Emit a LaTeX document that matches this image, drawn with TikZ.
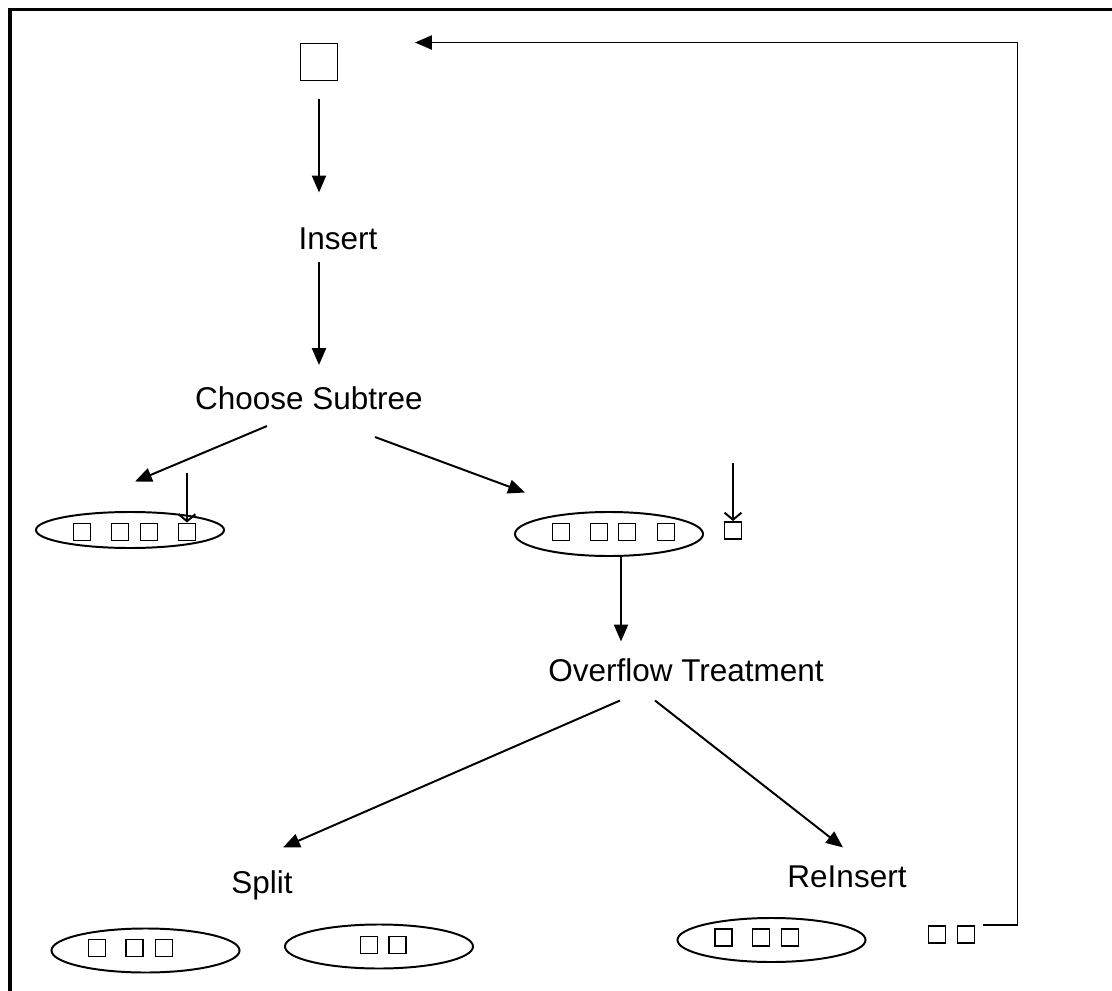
\documentclass[tikz,border=0pt]{standalone}
\usepackage{fontspec}
\setmainfont{Liberation Sans}
\usetikzlibrary{shapes.geometric, arrows.meta, calc}

\begin{document}
\begin{tikzpicture}[
  x=0.025cm, y=-0.025cm,
  lbl/.style={inner sep=0pt, text height=16pt, text depth=0pt, font=\fontsize{22.4}{27}\selectfont},
  leaf/.style={ellipse, draw, line width=1.4pt, minimum width=4.7cm, minimum height=1.1cm, inner sep=0pt},
  slot/.style={rectangle, draw, line width=1.4pt, minimum size=0.425cm, inner sep=0pt},
  arrow/.style={-{Triangle[length=12pt, width=10pt]}, line width=1.4pt},
  barb/.style={-{Straight Barb[length=5pt, width=12pt]}, line width=1.4pt},
]
\useasboundingbox (0,0) rectangle (1112,991);

% frame
\draw[line width=2.4pt] (10,991) -- (10,9.5) -- (1112,9.5);

% new entry and the path down
\node[slot, minimum size=0.925cm] (topbox) at (319,62) {};
\node[lbl] (insert) at (338,238) {Insert};
\node[lbl] (choose) at (309,398.5) {Choose Subtree};

\node[leaf, minimum height=0.9cm] (leafL) at (130,530) {};
\foreach \x [count=\i] in {82,120,149,187} \node[slot] (l\i) at (\x,532) {};
\node[leaf] (leafM) at (609,534) {};
\foreach \x [count=\i] in {561,599,627,666} \node[slot] (m\i) at (\x,532) {};
\node[slot] (newent) at (733,530.5) {};
\coordinate (intoL) at (187,473);
\coordinate (intoM) at (733,463);

\node[lbl] (overflow) at (686,670) {Overflow Treatment};
\node[lbl] (split) at (262,882) {Split};
\node[lbl] (reinsert) at (847,876) {ReInsert};

% results
\node[leaf] (splitA) at (145.5,950.5) {};
\foreach \x [count=\i] in {97,134.5,164} \node[slot] (a\i) at (\x,948) {};
\node[leaf] (splitB) at (379,946.5) {};
\foreach \x [count=\i] in {369,397.5} \node[slot] (b\i) at (\x,945) {};
\node[leaf] (reins) at (771.5,940) {};
\foreach \x [count=\i] in {723.5,761,790} \node[slot] (r\i) at (\x,937.5) {};
\foreach \x [count=\i] in {937,966} \node[slot] (p\i) at (\x,934.5) {};

\draw[arrow] ($(topbox.south)+(0,18)$) -- ($(topbox.south |- insert.north)+(0,-34)$);
\draw[arrow] ($(topbox.south |- insert.south)+(0,12)$) -- ($(topbox.south |- choose.north)+(0,-22)$);
\draw[arrow] ($(choose.south)+(-42,16)$) -- ($(leafL.north)+(5,-29.5)$);
\draw[arrow] ($(choose.south)+(66,27)$) -- ($(leafM.north)+(-84,-18.5)$);
\draw[barb] (intoL) -- (l4.north);
\draw[barb] (intoM) -- (newent.north);
\draw[arrow] ($(leafM.south)+(12,0)$) -- ($(leafM.south |- overflow.north)+(12,-17)$);
\draw[arrow] ($(overflow.south)+(-66,19)$) -- ($(split.north)+(21,-23)$);
\draw[arrow] ($(overflow.south)+(-31,19)$) -- ($(reinsert.north)+(-4,-17)$);
\draw[arrow] ($(p2.north east)+(8,0)$) -- ++(34,0) |- ($(topbox.north)+(96,0)$);

\end{tikzpicture}
\end{document}
